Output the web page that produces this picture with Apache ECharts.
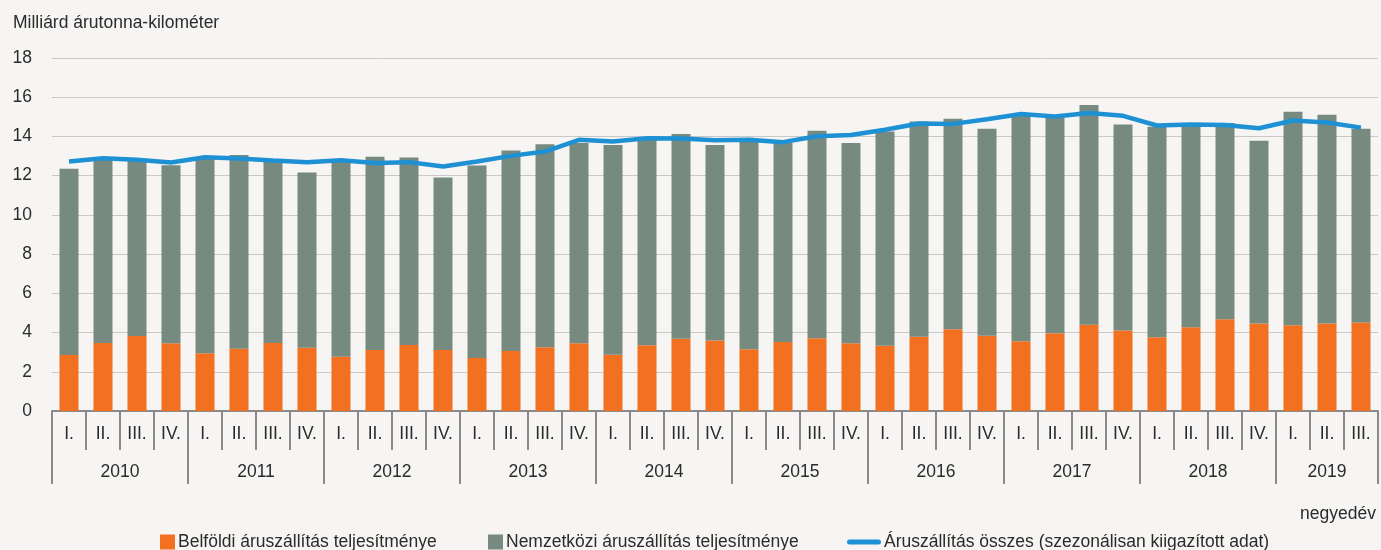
<!DOCTYPE html>
<html>
<head>
<meta charset="utf-8">
<script src="https://cdn.jsdelivr.net/npm/echarts@6/dist/echarts.min.js"></script>
<style>
html,body{margin:0;padding:0;background:#f6f5f3;}
#c{width:1381px;height:550px;}
</style>
</head>
<body>
<div id="c"></div>
<script>
const years = ['2010','2011','2012','2013','2014','2015','2016','2017','2018','2019'];
const quarterLabels = ['I.','II.','III.','IV.'];
const quartersPerYear = [4,4,4,4,4,4,4,4,4,3];
const domestic = [2.86,3.47,3.83,3.45, 2.94,3.18,3.47,3.23, 2.77,3.11,3.37,3.11, 2.70,3.06,3.25,3.45,
  2.87,3.35,3.69,3.59, 3.15,3.52,3.71,3.45, 3.33,3.79,4.17,3.84, 3.56,3.96,4.40,4.10,
  3.76,4.27,4.68,4.46, 4.37,4.46,4.51];
const international = [9.49,9.33,8.92,9.08, 9.91,9.88,9.28,8.93, 9.93,9.86,9.55,8.80, 9.82,10.22,10.35,10.21,
  10.70,10.50,10.44,9.98, 10.60,10.14,10.58,10.22, 10.92,10.97,10.73,10.55, 11.49,10.99,11.20,10.51,
  10.74,10.38,10.00,9.32, 10.89,10.64,9.88];
const totalSA = [12.72,12.89,12.81,12.67, 12.94,12.87,12.77,12.69, 12.79,12.64,12.69,12.47, 12.72,13.01,13.23,13.83,
  13.74,13.91,13.89,13.81, 13.83,13.71,14.01,14.07, 14.34,14.66,14.64,14.88, 15.14,15.02,15.19,15.05,
  14.56,14.61,14.58,14.42, 14.81,14.71,14.45];
const yTicks = [0,2,4,6,8,10,12,14,16,18];
const seriesNames = ['Belföldi áruszállítás teljesítménye','Nemzetközi áruszállítás teljesítménye','Áruszállítás összes (szezonálisan kiigazított adat)'];

// build categories
const categories = [];
const quarterBoundaries = [];
const yearBoundaries = [0];
const yearCenters = [];
let idx = 0;
years.forEach((y, i) => {
  const n = quartersPerYear[i];
  for (let q = 0; q < n; q++) categories.push(quarterLabels[q]);
  yearCenters.push(idx + n / 2);
  idx += n;
  yearBoundaries.push(idx);
});
for (let k = 0; k <= categories.length; k++) quarterBoundaries.push(k);

const font = 'Liberation Sans, Arial, sans-serif';
const txt = '#2b2b2b';
const axisGray = '#8a8a8a';
const legendText = {fontFamily: font, fontSize: 17.5, color: txt, padding: [0,0,0,-2]};
const chart = echarts.init(document.getElementById('c'));
chart.setOption({
  backgroundColor: '#f6f5f3',
  animation: false,
  textStyle: {fontFamily: font},
  grid: {left: 52, right: 3, top: 58, bottom: 139, containLabel: false},
  title: [
    {text: 'Milliárd árutonna-kilométer', left: 8, top: 9, textStyle: {fontFamily: font, fontSize: 17.5, fontWeight: 'normal', color: txt}},
    {text: 'negyedév', right: 0, top: 500, textStyle: {fontFamily: font, fontSize: 17.5, fontWeight: 'normal', color: txt}}
  ],
  legend: [
    {data: [seriesNames[0]], left: 160, top: 533, padding: 0, itemWidth: 15, itemHeight: 15,
      icon: 'rect', textStyle: legendText},
    {data: [seriesNames[1]], left: 488, top: 533, padding: 0, itemWidth: 15, itemHeight: 15,
      icon: 'rect', textStyle: legendText},
    {data: [seriesNames[2]], left: 847, top: 533, padding: 0, itemWidth: 34, itemHeight: 15,
      icon: 'path://M2.5,5 L31.5,5 A2.5,2.5 0 0 1 31.5,10 L2.5,10 A2.5,2.5 0 0 1 2.5,5 Z',
      textStyle: legendText}
  ],
  xAxis: [
    {type: 'category', data: categories, boundaryGap: true, position: 'bottom',
      axisLine: {show: true, lineStyle: {color: axisGray, width: 2}},
      axisTick: {show: false},
      axisLabel: {interval: 0, margin: 14, fontSize: 17.5, color: txt, fontFamily: font},
      splitLine: {show: false}},
    {type: 'value', min: 0, max: categories.length, position: 'bottom', offset: 0,
      axisLine: {show: false},
      axisTick: {show: true, customValues: quarterBoundaries, length: 39, lineStyle: {color: axisGray, width: 2}},
      axisLabel: {show: false},
      splitLine: {show: false}},
    {type: 'value', min: 0, max: categories.length, position: 'bottom', offset: 39,
      axisLine: {show: false},
      axisTick: {show: true, customValues: yearBoundaries, length: 34, lineStyle: {color: axisGray, width: 2}},
      axisLabel: {customValues: yearCenters, margin: 13, fontSize: 17.5, color: txt, fontFamily: font,
        formatter: v => { const i = yearCenters.findIndex(c => Math.abs(c - v) < 1e-6); return i >= 0 ? years[i] : ''; }},
      splitLine: {show: false}}
  ],
  yAxis: {type: 'value', min: yTicks[0], max: yTicks[yTicks.length-1], interval: 2,
    axisLine: {show: false}, axisTick: {show: false},
    axisLabel: {margin: 20, fontSize: 17.5, color: txt, fontFamily: font},
    splitLine: {lineStyle: {color: '#c8c8c8', width: 1}}},
  series: [
    {name: seriesNames[0], type: 'bar', stack: 'a', data: domestic, barWidth: 19, xAxisIndex: 0,
      itemStyle: {color: '#f37021'}},
    {name: seriesNames[1], type: 'bar', stack: 'a', data: international, barWidth: 19, xAxisIndex: 0,
      itemStyle: {color: '#778a80'}},
    {name: seriesNames[2], type: 'line', data: totalSA, xAxisIndex: 0, showSymbol: false, symbol: 'none',
      lineStyle: {color: '#1e90d4', width: 4.5}, itemStyle: {color: '#1e90d4'}, z: 5}
  ]
});
</script>
</body>
</html>
